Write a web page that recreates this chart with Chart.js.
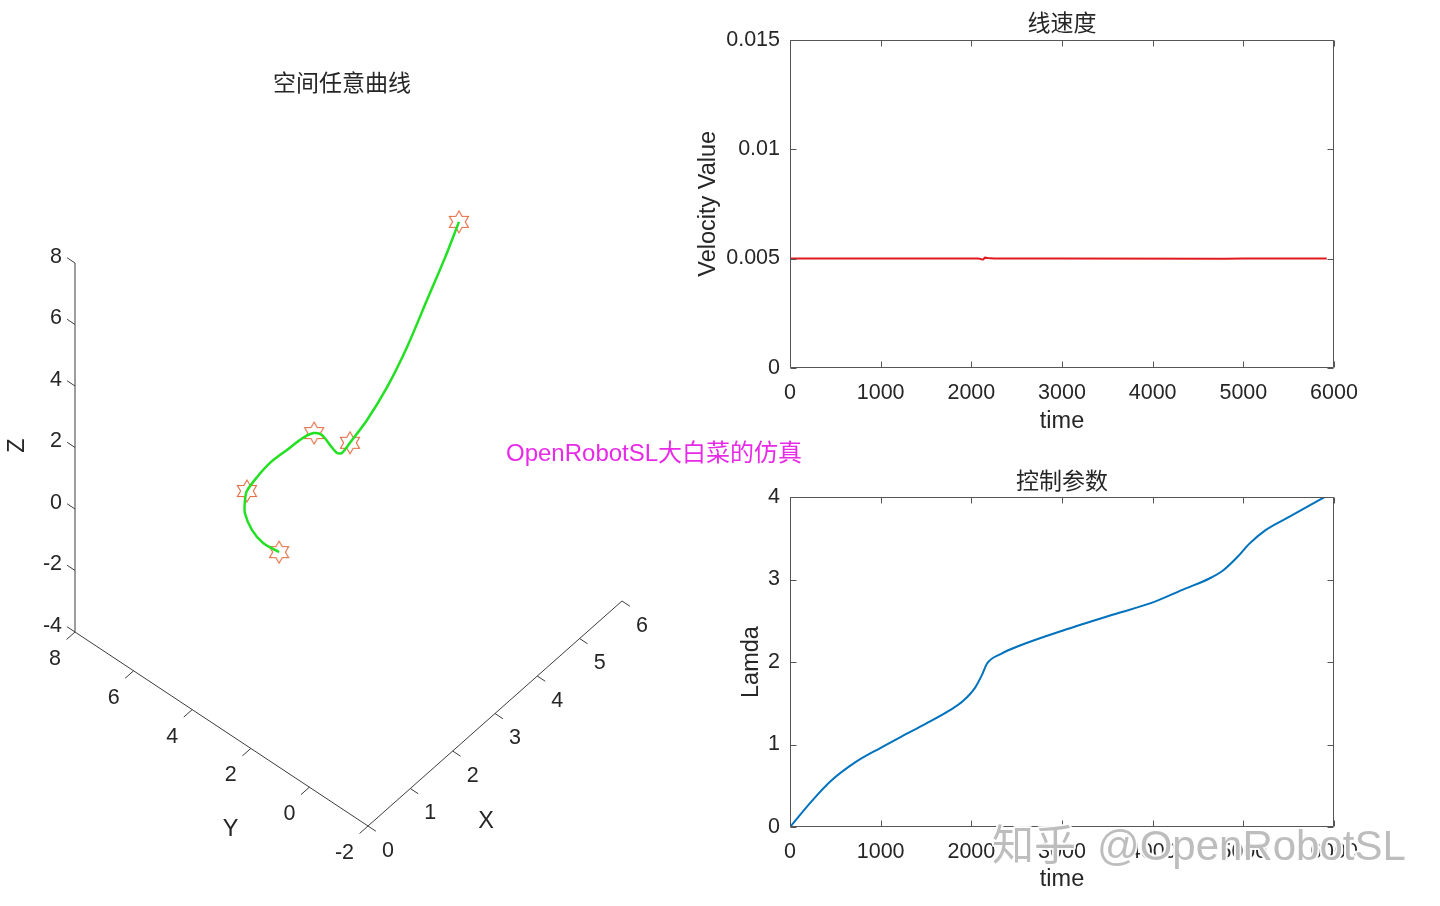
<!DOCTYPE html>
<html><head><meta charset="utf-8">
<script src="https://cdn.jsdelivr.net/npm/chart.js@4.4.1/dist/chart.umd.min.js"></script>
<style>
html,body{margin:0;padding:0;background:#fff;}
#wrap{position:relative;width:1440px;height:906px;overflow:hidden;}
canvas{position:absolute;left:0;top:0;}
</style></head><body>
<div id="wrap">
<canvas id="c3d" width="1440" height="906"></canvas>
<canvas id="cvel" width="1440" height="906"></canvas>
<canvas id="clam" width="1440" height="906"></canvas>
</div>
<script>
// ---------------- data ----------------
// 3D curve (空间任意曲线)
const curveX = [1.0, 1.1, 1.2, 1.3, 1.4, 1.5, 1.7, 1.9, 2.1, 2.3, 2.5, 2.6, 2.7, 2.8, 2.9, 3.0, 3.3, 3.6, 3.9, 4.3, 4.6, 5.0];
const curveY = [2.48, 3.17, 3.69, 4.08, 4.22, 4.30, 4.24, 4.09, 3.80, 3.54, 3.45, 3.33, 3.20, 3.10, 3.08, 2.95, 2.80, 2.55, 2.30, 2.20, 2.02, 2.12];
const curveZ = [0.86, 0.60, 0.57, 0.76, 0.97, 1.09, 1.34, 1.65, 2.01, 2.32, 2.29, 2.18, 1.82, 1.50, 1.39, 1.68, 2.15, 3.01, 4.11, 5.21, 6.33, 6.95];
// waypoints (hexagram markers)
const wayX = [1.0, 1.5, 2.5, 3.0, 5.0];
const wayY = [2.48, 4.30, 3.45, 2.95, 2.12];
const wayZ = [0.86, 1.09, 2.29, 1.68, 6.95];
// 3D axis limits and ticks
const xLim3D = [0, 6];
const yLim3D = [-2, 8];
const zLim3D = [-4, 8];
const xTicks3D = [0, 1, 2, 3, 4, 5, 6];
const yTicks3D = [-2, 0, 2, 4, 6, 8];
const zTicks3D = [-4, -2, 0, 2, 4, 6, 8];
const xTickLabels3D = ['0', '1', '2', '3', '4', '5', '6'];
const yTickLabels3D = ['-2', '0', '2', '4', '6', '8'];
const zTickLabels3D = ['-4', '-2', '0', '2', '4', '6', '8'];

// 线速度
const velTime = [0, 2080, 2110, 2130, 2150, 2180, 2250, 3000, 4800, 5000, 5920];
const velValue = [0.005, 0.005, 0.00497, 0.00496, 0.00504, 0.00502, 0.005, 0.005, 0.00499, 0.005, 0.005];
const velTicks = [0, 0.005, 0.01, 0.015];
const velTickLabels = ['0', '0.005', '0.01', '0.015'];

// 控制参数
const lamTime = [0, 245, 453, 714, 1000, 1234, 1495, 1755, 1911, 2042, 2120, 2172, 2328, 2536, 3005, 3578, 3995, 4359, 4620, 4776, 4932, 5062, 5245, 5505, 5896];
const lamValue = [0, 0.32, 0.56, 0.78, 0.96, 1.10, 1.25, 1.41, 1.53, 1.69, 1.85, 1.98, 2.10, 2.20, 2.38, 2.58, 2.72, 2.89, 3.01, 3.11, 3.27, 3.43, 3.60, 3.76, 4.0];
const lamTicks = [0, 1, 2, 3, 4];
const lamTickLabels = ['0', '1', '2', '3', '4'];

const timeTicks = [0, 1000, 2000, 3000, 4000, 5000, 6000];
const timeTickLabels = ['0', '1000', '2000', '3000', '4000', '5000', '6000'];

// ---------------- styles ----------------
const LAT = "'Liberation Sans', Arial, Helvetica, sans-serif";
const CJK = "'Noto Sans CJK SC', 'Noto Sans', sans-serif";
const TXT = '#262626';
const FRAME = '#555555';
Chart.defaults.font.family = LAT;
Chart.defaults.color = TXT;

// orthographic view of the 3D box (view-plane units)
const view = { origin: [368, 826], ex: [42.33, -37.5], ey: [-29.3, -19.4], ez: [0, -30.75] };
function project(x, y, z) {
  const dx = x - xLim3D[0], dy = y - yLim3D[0], dz = z - zLim3D[0];
  return {
    x: view.origin[0] + dx * view.ex[0] + dy * view.ey[0] + dz * view.ez[0],
    y: view.origin[1] + dx * view.ex[1] + dy * view.ey[1] + dz * view.ez[1]
  };
}

function hexagram(r, color) {
  const s = Math.ceil(2 * r + 4);
  const c = document.createElement('canvas');
  c.width = s; c.height = s;
  const g = c.getContext('2d');
  g.translate(s / 2, s / 2);
  g.beginPath();
  for (let i = 0; i < 12; i++) {
    const a = -Math.PI / 2 + i * Math.PI / 6;
    const rr = i % 2 === 0 ? r : r / Math.sqrt(3);
    g.lineTo(rr * Math.cos(a), rr * Math.sin(a));
  }
  g.closePath();
  g.strokeStyle = color;
  g.lineWidth = 1.1;
  g.stroke();
  return c;
}

// ---------------- 3D panel ----------------
const axes3d = {
  id: 'axes3d',
  afterDatasetsDraw(chart) {
    const { ctx } = chart;
    const sx = chart.scales.x, sy = chart.scales.y;
    const P = (x, y, z) => { const p = project(x, y, z); return [sx.getPixelForValue(p.x), sy.getPixelForValue(p.y)]; };
    ctx.save();
    ctx.strokeStyle = '#3c3c3c';
    ctx.lineWidth = 1;
    ctx.beginPath();
    zTicks3D.forEach(z => { const a = P(xLim3D[0], yLim3D[1], z), b = P(xLim3D[0], yLim3D[1] + 0.27, z); ctx.moveTo(a[0], a[1]); ctx.lineTo(b[0], b[1]); });
    yTicks3D.forEach(y => { const a = P(xLim3D[0], y, zLim3D[0]), b = P(xLim3D[0] - 0.2, y, zLim3D[0]); ctx.moveTo(a[0], a[1]); ctx.lineTo(b[0], b[1]); });
    xTicks3D.forEach(x => { const a = P(x, yLim3D[0], zLim3D[0]), b = P(x, yLim3D[0] - 0.27, zLim3D[0]); ctx.moveTo(a[0], a[1]); ctx.lineTo(b[0], b[1]); });
    ctx.stroke();

    ctx.fillStyle = TXT;
    ctx.font = '21.5px ' + LAT;
    ctx.textBaseline = 'middle';
    ctx.textAlign = 'right';
    zTicks3D.forEach((z, i) => { const a = P(xLim3D[0], yLim3D[1], z); ctx.fillText(zTickLabels3D[i], a[0] - 13, a[1] - 6); });
    yTicks3D.forEach((y, i) => { const a = P(xLim3D[0], y, zLim3D[0]); ctx.fillText(yTickLabels3D[i], a[0] - 14, a[1] + 27); });
    ctx.textAlign = 'left';
    xTicks3D.forEach((x, i) => { const a = P(x, yLim3D[0], zLim3D[0]); ctx.fillText(xTickLabels3D[i], a[0] + 14, a[1] + 25); });

    // axis names
    ctx.font = '23.5px ' + LAT;
    ctx.textAlign = 'center';
    const xm = P((xLim3D[0] + xLim3D[1]) / 2, yLim3D[0], zLim3D[0]);
    ctx.fillText('X', xm[0] - 9, xm[1] + 108);
    const ym = P(xLim3D[0], (yLim3D[0] + yLim3D[1]) / 2, zLim3D[0]);
    ctx.fillText('Y', ym[0] + 9, ym[1] + 101);
    const zm = P(xLim3D[0], yLim3D[1], (zLim3D[0] + zLim3D[1]) / 2);
    ctx.save();
    ctx.translate(zm[0] - 57, zm[1] - 2);
    ctx.rotate(-Math.PI / 2);
    ctx.fillText('Z', 0, 0);
    ctx.restore();

    // title
    ctx.font = '23px ' + CJK;
    ctx.fillText('空间任意曲线', 342, 82);

    // annotation
    ctx.fillStyle = '#e82ae8';
    ctx.font = '24px ' + LAT + ", 'Noto Sans CJK SC'";
    ctx.textAlign = 'left';
    ctx.fillText('OpenRobotSL大白菜的仿真', 506, 454);
    ctx.restore();
  }
};

const pts = (xs, ys, zs) => xs.map((x, i) => project(x, ys[i], zs[i]));
new Chart(document.getElementById('c3d'), {
  type: 'scatter',
  data: {
    datasets: [
      { data: [project(xLim3D[0], yLim3D[1], zLim3D[0]), project(xLim3D[0], yLim3D[1], zLim3D[1])], showLine: true, borderColor: '#3c3c3c', borderWidth: 1, pointRadius: 0 },
      { data: [project(xLim3D[0], yLim3D[1], zLim3D[0]), project(xLim3D[0], yLim3D[0], zLim3D[0])], showLine: true, borderColor: '#3c3c3c', borderWidth: 1, pointRadius: 0 },
      { data: [project(xLim3D[0], yLim3D[0], zLim3D[0]), project(xLim3D[1], yLim3D[0], zLim3D[0])], showLine: true, borderColor: '#3c3c3c', borderWidth: 1, pointRadius: 0 },
      { data: pts(curveX, curveY, curveZ), showLine: true, borderColor: '#22e022', borderWidth: 2.5, pointRadius: 0, tension: 0.3 },
      { data: pts(wayX, wayY, wayZ), showLine: false, pointStyle: hexagram(11, '#e2683c'), pointRadius: 11 }
    ]
  },
  options: {
    responsive: false, animation: false, events: [],
    layout: { padding: 0, autoPadding: false },
    plugins: { legend: { display: false }, tooltip: { enabled: false } },
    scales: {
      x: { type: 'linear', min: 0, max: 1440, display: false },
      y: { type: 'linear', min: 0, max: 906, reverse: true, display: false }
    }
  },
  plugins: [axes3d]
});

// ---------------- 2D panels ----------------
const frameTicks = {
  id: 'frameTicks',
  afterDraw(chart) {
    const { ctx, chartArea: a } = chart;
    const x = chart.scales.x, y = chart.scales.y;
    const L = Math.round(a.left) + 0.5, R = Math.round(a.right) - 0.5, T = Math.round(a.top) + 0.5, B = Math.round(a.bottom) - 0.5;
    ctx.save();
    ctx.strokeStyle = FRAME;
    ctx.lineWidth = 1;
    ctx.beginPath();
    ctx.rect(L, T, R - L, B - T);
    x.ticks.forEach(t => { const p = Math.round(x.getPixelForValue(t.value)) + 0.5; ctx.moveTo(p, B); ctx.lineTo(p, B - 6); ctx.moveTo(p, T); ctx.lineTo(p, T + 6); });
    y.ticks.forEach(t => { const p = Math.round(y.getPixelForValue(t.value)) + 0.5; ctx.moveTo(L, p); ctx.lineTo(L + 6, p); ctx.moveTo(R, p); ctx.lineTo(R - 6, p); });
    ctx.stroke();
    ctx.restore();
  }
};

function axisOpts(ticks, labels, min, max, tickPad, titleText, titlePad, extra) {
  return Object.assign({
    type: 'linear', min: min, max: max,
    afterBuildTicks: s => { s.ticks = ticks.map(v => ({ value: v })); },
    grid: { display: false, drawTicks: false },
    border: { display: false },
    ticks: { padding: tickPad, font: { size: 21.5, family: LAT }, color: TXT, autoSkip: false, maxRotation: 0,
      callback: (v) => { const i = ticks.indexOf(v); return i >= 0 ? labels[i] : ''; } },
    title: { display: true, text: titleText, font: { size: 23.5, family: LAT }, color: TXT, padding: titlePad }
  }, extra);
}

new Chart(document.getElementById('cvel'), {
  type: 'scatter',
  data: { datasets: [{ data: velTime.map((t, i) => ({ x: t, y: velValue[i] })), showLine: true, borderColor: '#e01a1e', borderWidth: 2, pointRadius: 0, tension: 0 }] },
  options: {
    responsive: false, animation: false, events: [],
    layout: { padding: { left: 690, right: 106, top: 0, bottom: 466 }, autoPadding: false },
    plugins: { legend: { display: false }, tooltip: { enabled: false },
      title: { display: true, fullSize: false, text: '线速度', font: { size: 23, family: CJK, weight: 'normal' }, color: TXT, padding: { top: 8, bottom: 4 } } },
    scales: {
      x: axisOpts(timeTicks, timeTickLabels, 0, 6000, 12, 'time', { top: 0, bottom: 4 }, { afterFit: s => { s.height = 72; } }),
      y: axisOpts(velTicks, velTickLabels, 0, 0.015, 10, 'Velocity Value', { top: 4, bottom: 0 }, { afterFit: s => { s.width = 100; } })
    }
  },
  plugins: [frameTicks]
});

const watermark = {
  id: 'watermark',
  afterDraw(chart) {
    const { ctx } = chart;
    ctx.save();
    ctx.font = '42px ' + LAT + ", 'Noto Sans CJK SC'";
    ctx.textAlign = 'left';
    ctx.textBaseline = 'alphabetic';
    ctx.lineJoin = 'round';
    ctx.strokeStyle = 'rgba(255,255,255,0.95)';
    ctx.lineWidth = 4;
    ctx.strokeText('知乎', 992, 860);
    ctx.strokeText('@OpenRobotSL', 1097, 860);
    ctx.fillStyle = 'rgba(172,172,172,0.8)';
    ctx.fillText('知乎', 992, 860);
    ctx.fillText('@OpenRobotSL', 1097, 860);
    ctx.restore();
  }
};

new Chart(document.getElementById('clam'), {
  type: 'scatter',
  data: { datasets: [{ data: lamTime.map((t, i) => ({ x: t, y: lamValue[i] })), showLine: true, borderColor: '#0072BD', borderWidth: 2, pointRadius: 0, tension: 0.4, cubicInterpolationMode: 'monotone' }] },
  options: {
    responsive: false, animation: false, events: [],
    layout: { padding: { left: 690, right: 106, top: 440, bottom: 0 }, autoPadding: false },
    plugins: { legend: { display: false }, tooltip: { enabled: false },
      title: { display: true, fullSize: false, text: '控制参数', font: { size: 23, family: CJK, weight: 'normal' }, color: TXT, padding: { top: 26, bottom: 3.5 } } },
    scales: {
      x: axisOpts(timeTicks, timeTickLabels, 0, 6000, 12, 'time', { top: 0, bottom: 12 }, { afterFit: s => { s.height = 79; } }),
      y: axisOpts(lamTicks, lamTickLabels, 0, 4, 10, 'Lamda', { top: 47, bottom: 0 }, { afterFit: s => { s.width = 100; } })
    }
  },
  plugins: [frameTicks, watermark]
});
</script>
</body></html>
